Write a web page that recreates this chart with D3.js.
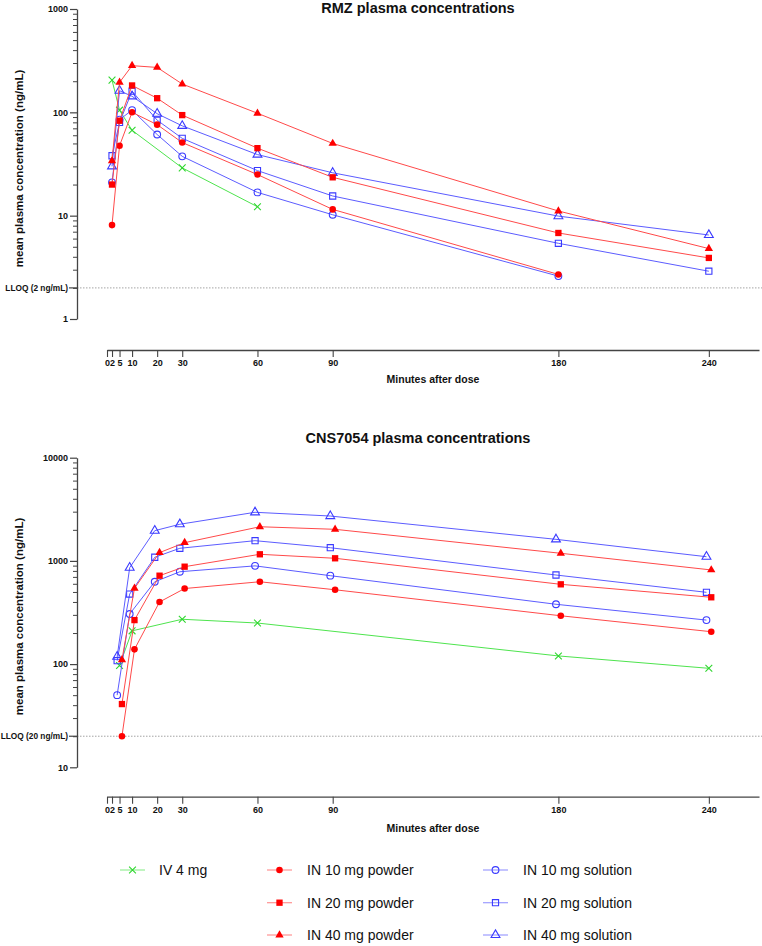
<!DOCTYPE html>
<html>
<head>
<meta charset="utf-8">
<script src="https://cdn.jsdelivr.net/npm/d3@7"></script>
<style>
  html, body { margin: 0; padding: 0; background: #fff; }
  svg { display: block; font-family: "Liberation Sans", Arial, Helvetica, sans-serif; }
</style>
</head>
<body>
<script>
// ---------------- DATA ----------------
const xTickValues = [0, 2, 5, 10, 20, 30, 60, 90, 180, 240];
const seriesNames = ["IV 4 mg", "IN 10 mg powder", "IN 20 mg powder", "IN 40 mg powder",
                     "IN 10 mg solution", "IN 20 mg solution", "IN 40 mg solution"];

// RMZ (top panel)
const rmzTimesIV      = [2, 5, 10, 30, 60];
const rmzTimesIN      = [2, 5, 10, 20, 30, 60, 90, 180, 240];
const rmzIV4          = [205, 105, 67, 29, 12.2];
const rmzIN10powder   = [8.1, 47.5, 100, 76, 51, 25, 11.5, 2.7];
const rmzIN20powder   = [20, 83, 182, 137, 94, 45, 23.5, 6.8, 3.9];
const rmzIN40powder   = [34, 195, 283, 272, 188, 98, 50, 11.1, 4.8];
const rmzIN10solution = [21, 85, 105, 61, 37.5, 16.8, 10.2, 2.6];
const rmzIN20solution = [38, 80, 160, 84, 56, 27.3, 15.5, 5.4, 2.9];
const rmzIN40solution = [30, 162, 143, 97, 74, 39, 26, 9.9, 6.5];
const rmzYTicks = [1, 10, 100, 1000];
const rmzLLOQ = 2;

// CNS7054 (bottom panel)
const cnsTimesIV      = [5, 10, 30, 60, 180, 240];
const cnsTimesIN      = [5, 10, 20, 30, 60, 90, 180, 240];
const cnsIV4          = [97, 210, 272, 250, 120, 91];
const cnsIN10powder   = [20, 139, 400, 540, 628, 525, 294, 206];
const cnsIN20powder   = [41, 267, 719, 879, 1159, 1060, 593, 444];
const cnsIN40powder   = [110, 542, 1203, 1502, 2143, 2023, 1185, 817];
const cnsIN10solution = [50, 306, 628, 785, 895, 719, 380, 267];
const cnsIN20solution = [108, 477, 1085, 1325, 1570, 1342, 730, 496];
const cnsIN40solution = [118, 859, 1963, 2265, 2958, 2722, 1618, 1098];
const cnsYTicks = [10, 100, 1000, 10000];
const cnsLLOQ = 20;

// ---------------- STYLE ----------------
const RED = "#ff0000", RED_LINE = "#ff4a4a";
const BLUE = "#3a3aff", BLUE_LINE = "#5c5cff";
const GREEN = "#2ed62e", GREEN_LINE = "#4ee44e";
const styles = [
  { shape: "x",        color: GREEN, line: GREEN_LINE, fill: false, nudge: 0 },
  { shape: "circle",   color: RED,   line: RED_LINE,   fill: true,  nudge: 2.4 },
  { shape: "square",   color: RED,   line: RED_LINE,   fill: true,  nudge: 2.4 },
  { shape: "triangle", color: RED,   line: RED_LINE,   fill: true,  nudge: 2.4 },
  { shape: "circle",   color: BLUE,  line: BLUE_LINE,  fill: false, nudge: -2.4 },
  { shape: "square",   color: BLUE,  line: BLUE_LINE,  fill: false, nudge: -2.4 },
  { shape: "triangle", color: BLUE,  line: BLUE_LINE,  fill: false, nudge: -2.4 }
];

const W = 762, H = 946;
const svg = d3.select("body").append("svg").attr("width", W).attr("height", H);

function markerPath(shape, filled) {
  if (shape === "circle") return d3.symbol(d3.symbolCircle, filled ? 34 : 36)();
  if (shape === "square") return d3.symbol(d3.symbolSquare, filled ? 40 : 38)();
  if (shape === "triangle") return d3.symbol(d3.symbolTriangle, filled ? 30 : 34)();
  const s = 3.4;
  return `M${-s},${-s}L${s},${s}M${-s},${s}L${s},${-s}`;
}

function drawMarker(g, st, cx, cy) {
  const p = g.append("path")
    .attr("d", markerPath(st.shape, st.fill))
    .attr("transform", `translate(${cx},${cy})`);
  if (st.shape === "x") {
    p.attr("fill", "none").attr("stroke", st.color).attr("stroke-width", 1.1);
  } else if (st.fill) {
    p.attr("fill", st.color).attr("stroke", "none");
  } else {
    p.attr("fill", "none").attr("stroke", st.color).attr("stroke-width", 1.1);
  }
}

function panel(o) {
  const x = d3.scaleLinear().domain([0, 260]).range([107, 759]);
  const y = d3.scaleLog().domain([o.yTicks[0], o.yTicks[o.yTicks.length - 1]]).range([o.yBottom, o.yTop]);
  const g = svg.append("g");

  // title
  g.append("text").attr("x", 418).attr("y", o.titleY).attr("text-anchor", "middle")
    .attr("font-size", 14.5).attr("font-weight", "bold").attr("fill", "#111").text(o.title);

  // LLOQ dotted line
  g.append("line").attr("x1", 77).attr("x2", 762).attr("y1", y(o.lloq)).attr("y2", y(o.lloq))
    .attr("stroke", "#9a9a9a").attr("stroke-width", 0.9).attr("stroke-dasharray", "1.5,1.5");

  // minor ticks
  const minors = [];
  for (let i = 0; i < o.yTicks.length - 1; i++) {
    for (let k = 2; k <= 9; k++) minors.push(o.yTicks[i] * k);
  }
  const minorAxis = g.append("g").attr("transform", "translate(77,0)")
    .call(d3.axisLeft(y).tickValues(minors).tickSize(4).tickSizeOuter(0).tickFormat(""));
  minorAxis.select(".domain").remove();
  minorAxis.selectAll("line").attr("stroke", "#444").attr("stroke-width", 1);

  // major y axis
  const yAx = g.append("g").attr("transform", "translate(77,0)")
    .call(d3.axisLeft(y).tickValues(o.yTicks).tickFormat(d3.format("d")).tickSize(7).tickPadding(2).tickSizeOuter(0));
  yAx.select(".domain").attr("stroke", "#444").attr("stroke-width", 1.3);
  yAx.selectAll(".tick line").attr("stroke", "#444").attr("stroke-width", 1.2);
  yAx.selectAll(".tick text").attr("font-size", 9).attr("font-weight", "bold").attr("fill", "#111")
    .attr("font-family", "Liberation Sans, Arial, sans-serif");

  // LLOQ tick + label
  g.append("line").attr("x1", 69).attr("x2", 77).attr("y1", y(o.lloq)).attr("y2", y(o.lloq))
    .attr("stroke", "#444").attr("stroke-width", 1.2);
  g.append("text").attr("x", 68).attr("y", y(o.lloq)).attr("dy", "0.32em").attr("text-anchor", "end")
    .attr("font-size", 8.3).attr("font-weight", "bold").attr("fill", "#111").text(o.lloqLabel);

  // y axis title
  g.append("text").attr("transform", `translate(23,${o.yLabelY}) rotate(-90)`)
    .attr("text-anchor", "middle").attr("font-size", 11.5).attr("font-weight", "bold").attr("fill", "#111")
    .text("mean plasma concentration (ng/mL)");

  // x axis
  const xAx = g.append("g").attr("transform", `translate(0,${o.xAxisY})`)
    .call(d3.axisBottom(x).tickValues(xTickValues).tickSize(7).tickPadding(3).tickSizeOuter(0));
  xAx.select(".domain").attr("stroke", "#444").attr("stroke-width", 1.3);
  xAx.selectAll(".tick line").attr("stroke", "#444").attr("stroke-width", 1.1);
  xAx.selectAll(".tick text").attr("font-size", 9).attr("font-weight", "bold").attr("fill", "#111")
    .attr("font-family", "Liberation Sans, Arial, sans-serif");

  g.append("text").attr("x", 433).attr("y", o.xLabelY).attr("text-anchor", "middle")
    .attr("font-size", 10.5).attr("font-weight", "bold").attr("fill", "#111").text("Minutes after dose");

  // series
  const order = [0, 4, 5, 6, 1, 2, 3];
  order.forEach(i => {
    const st = styles[i];
    const times = o.times[i];
    const vals = o.values[i];
    const dx = o.nudge ? st.nudge : 0;
    const pts = vals.map((v, j) => [x(times[j]) + dx, y(v)]);
    g.append("path").attr("d", d3.line()(pts)).attr("fill", "none")
      .attr("stroke", st.line).attr("stroke-width", 1);
    pts.forEach(p => drawMarker(g, st, p[0], p[1]));
  });
}

panel({
  title: "RMZ plasma concentrations", titleY: 12.5,
  yTicks: rmzYTicks, yTop: 9, yBottom: 319,
  lloq: rmzLLOQ, lloqLabel: "LLOQ (2 ng/mL)",
  yLabelY: 168.5, xAxisY: 350, xLabelY: 382.5, nudge: false,
  times: [rmzTimesIV, rmzTimesIN, rmzTimesIN, rmzTimesIN, rmzTimesIN, rmzTimesIN, rmzTimesIN],
  values: [rmzIV4, rmzIN10powder, rmzIN20powder, rmzIN40powder, rmzIN10solution, rmzIN20solution, rmzIN40solution]
});

panel({
  title: "CNS7054 plasma concentrations", titleY: 443,
  yTicks: cnsYTicks, yTop: 457.7, yBottom: 767.3,
  lloq: cnsLLOQ, lloqLabel: "LLOQ (20 ng/mL)",
  yLabelY: 616.5, xAxisY: 796.7, xLabelY: 831.5, nudge: true,
  times: [cnsTimesIV, cnsTimesIN, cnsTimesIN, cnsTimesIN, cnsTimesIN, cnsTimesIN, cnsTimesIN],
  values: [cnsIV4, cnsIN10powder, cnsIN20powder, cnsIN40powder, cnsIN10solution, cnsIN20solution, cnsIN40solution]
});

// ---------------- LEGEND ----------------
const legendPos = [
  { lx: 120, tx: 159, y: 870 },
  { lx: 267, tx: 307, y: 870 },
  { lx: 267, tx: 307, y: 902.7 },
  { lx: 267, tx: 307, y: 935 },
  { lx: 483, tx: 523, y: 870 },
  { lx: 483, tx: 523, y: 902.7 },
  { lx: 483, tx: 523, y: 935 }
];
const leg = svg.append("g");
seriesNames.forEach((name, i) => {
  const st = styles[i], p = legendPos[i];
  leg.append("line").attr("x1", p.lx).attr("x2", p.lx + 25).attr("y1", p.y).attr("y2", p.y)
    .attr("stroke", st.line).attr("stroke-opacity", 0.6).attr("stroke-width", 1.2);
  drawMarker(leg, st, p.lx + 12.5, p.y);
  leg.append("text").attr("x", p.tx).attr("y", p.y).attr("dy", "0.36em")
    .attr("font-size", 14).attr("fill", "#111").text(name);
});
</script>
</body>
</html>
